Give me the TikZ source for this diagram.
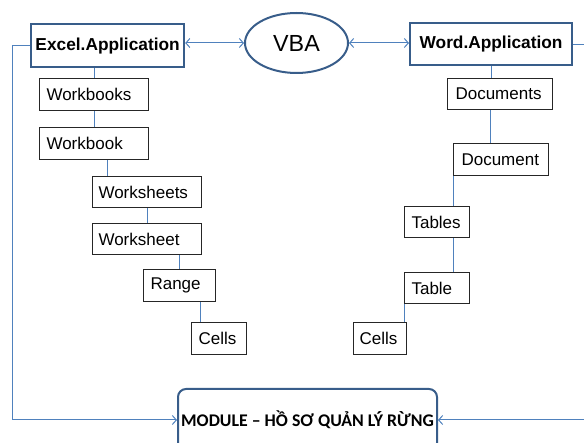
\documentclass[tikz,border=0pt]{standalone}
\usepackage{fontspec}
\setmainfont{Liberation Sans}
\newfontfamily\modfont{Carlito}
\usetikzlibrary{arrows.meta,shapes.geometric}
\definecolor{frameblue}{HTML}{385D8A}
\definecolor{linkblue}{HTML}{4F81BD}
\begin{document}
\begin{tikzpicture}[x=1pt,y=-1pt,
  appbox/.style={draw=frameblue, line width=2.2pt, font=\fontsize{17.3}{20}\selectfont\bfseries, inner sep=0pt, anchor=north west},
  objbox/.style={draw=black!85, line width=1.1pt, font=\fontsize{17}{20}\selectfont, inner ysep=0pt, align=left, anchor=north west},
  link/.style={draw=linkblue, line width=1pt},
  tip/.tip={Straight Barb[length=4pt,width=9pt]}
]
\useasboundingbox (0,0) rectangle (584,443);
% application boxes
\node[appbox, minimum width=153pt, minimum height=43pt] (excel) at (30,23) {Excel.Application};
\node[appbox, minimum width=162pt, minimum height=42pt] (word) at (409,22) {Word.Application};
\node[draw=frameblue, line width=2pt, ellipse, minimum width=103pt, minimum height=60pt, inner sep=0pt,
      font=\fontsize{23.3}{26}\selectfont] (vba) at (296.5,43) {VBA};
% Excel objects
\node[objbox, inner xsep=7pt, text width=95pt, minimum height=32pt] (wbs) at (39,78) {Workbooks};
\node[objbox, inner xsep=7pt, text width=95pt, minimum height=32pt] (wb) at (39,127) {Workbook};
\node[objbox, inner xsep=6pt, text width=97pt, minimum height=31pt] (wss) at (92,176) {Worksheets};
\node[objbox, inner xsep=6pt, text width=97pt, minimum height=31pt] (ws) at (92,223) {Worksheet};
\node[objbox, inner xsep=7pt, text width=58pt, minimum height=32pt] (rng) at (143,269) {Range};
\node[objbox, inner xsep=7pt, text width=41pt, minimum height=32pt] (cellsA) at (191,322) {Cells};
% Word objects
\node[objbox, inner xsep=8pt, text width=89pt, minimum height=31pt] (docs) at (447,78) {Documents};
\node[objbox, inner xsep=8pt, text width=79pt, minimum height=32pt] (doc) at (453,143) {Document};
\node[objbox, inner xsep=7pt, text width=51pt, minimum height=31pt] (tabs) at (404,206) {Tables};
\node[objbox, inner xsep=7pt, text width=51pt, minimum height=31pt] (tab) at (404,272) {Table};
\node[objbox, inner xsep=6pt, text width=41pt, minimum height=32pt] (cellsB) at (353,322) {Cells};
% module
\node[draw=frameblue, line width=2pt, rounded corners=8pt, anchor=north west, minimum width=259pt, minimum height=62pt,
      inner sep=0pt, font=\fontsize{17.8}{20}\selectfont\modfont\bfseries] (mod) at (177,388) {MODULE – HỒ SƠ QUẢN LÝ RỪNG};
% arrows with VBA
\draw[link, tip-tip] (vba.west -| excel.east) -- (vba.west);
\draw[link, tip-tip] (vba.east) -- (vba.east -| word.west);
% loops to module
\draw[link, -tip] (excel.west) -- ++(-18,0) |- (mod.west);
\draw[link, -tip] (word.east) -- ++(19,0) |- (mod.east);
% Excel tree
\draw[link] (wbs.north) -- (wbs.north |- excel.south);
\draw[link] (wbs.south) -- (wb.north);
\draw[link] ([xshift=13.5pt]wb.south) -- ([xshift=13.5pt]wb.south |- wss.north);
\draw[link] (wss.south) -- (wss.south |- ws.north);
\draw[link] (rng.north) -- (rng.north |- ws.south);
\draw[link] ([xshift=-18.5pt]cellsA.north) -- ([xshift=-18.5pt]cellsA.north |- rng.south);
% Word tree
\draw[link] (word.south) -- (word.south |- docs.north);
\draw[link] ([xshift=-9.5pt]docs.south) -- ([xshift=-9.5pt]docs.south |- doc.north);
\draw[link] (doc.south west) -- (doc.south west |- tabs.north);
\draw[link] (doc.south west |- tabs.south) -- (doc.south west |- tab.north);
\draw[link] (tab.south west) -- (tab.south west |- cellsB.north);
\end{tikzpicture}
\end{document}
